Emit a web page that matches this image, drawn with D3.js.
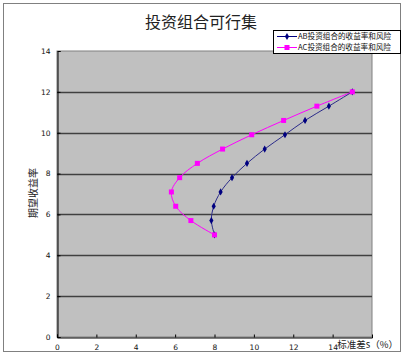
<!DOCTYPE html>
<html><head><meta charset="utf-8">
<script src="https://cdn.jsdelivr.net/npm/d3@7"></script>
<style>body{margin:0;background:#fff;} svg{display:block;}</style>
</head><body>
<svg id="c" width="405" height="356"></svg>
<script>
const title = "投资组合可行集";
const xTitle = "标准差s（%）";
const yTitle = "期望收益率";
const seriesNames = ["AB投资组合的收益率和风险", "AC投资组合的收益率和风险"];
const returns = [5, 5.7, 6.4, 7.1, 7.8, 8.5, 9.2, 9.9, 10.6, 11.3, 12];
const abRisk = [8.0, 7.84, 7.96, 8.31, 8.89, 9.65, 10.55, 11.58, 12.6, 13.81, 15.0];
const acRisk = [8.0, 6.8, 6.03, 5.81, 6.23, 7.13, 8.41, 9.89, 11.51, 13.2, 15.0];
const xTicks = [0, 2, 4, 6, 8, 10, 12, 14];
const yTicks = [0, 2, 4, 6, 8, 10, 12, 14];

const svg = d3.select("#c");
const font = "'Noto Sans CJK SC', 'DejaVu Sans', sans-serif";
const L = 57, R = 372, T = 51, B = 337;
const x = d3.scaleLinear().domain([0, 16]).range([L, R]);
const y = d3.scaleLinear().domain([0, 14]).range([B, T]);

// outer border
svg.append("rect").attr("x", 3.5).attr("y", 3.5).attr("width", 397).attr("height", 348)
  .attr("fill", "#fff").attr("stroke", "#808080");

// title
svg.append("text").attr("x", 201).attr("y", 28).attr("text-anchor", "middle")
  .attr("font-family", font).attr("font-size", 16).attr("fill", "#222").text(title);

// plot area
svg.append("rect").attr("x", L).attr("y", T).attr("width", R - L).attr("height", B - T)
  .attr("fill", "#c0c0c0").attr("stroke", "#808080");

// gridlines
svg.append("g").selectAll("line").data(yTicks.filter(d => d > 0 && d < 14)).join("line")
  .attr("x1", L).attr("x2", R).attr("y1", d => Math.round(y(d)) + 0.5).attr("y2", d => Math.round(y(d)) + 0.5)
  .attr("stroke", "#404040").attr("stroke-width", 1.3);

// axes
const xAxis = svg.append("g").attr("transform", `translate(0,${B + 0.5})`)
  .call(d3.axisBottom(x).tickValues(xTicks).tickSize(-3).tickPadding(7).tickFormat(d3.format("d")));
const yAxis = svg.append("g").attr("transform", `translate(${L + 0.5},0)`)
  .call(d3.axisLeft(y).tickValues(yTicks).tickSize(-3).tickPadding(7).tickFormat(d3.format("d")));
[xAxis, yAxis].forEach(a => {
  a.select(".domain").attr("stroke", "#000");
  a.selectAll(".tick line").attr("stroke", "#000");
  a.selectAll("text").attr("font-family", "'DejaVu Sans', sans-serif").attr("font-size", 7.5).attr("fill", "#111");
});

// axis titles
svg.append("text").attr("x", 398).attr("y", 348).attr("text-anchor", "end")
  .attr("font-family", font).attr("font-size", 9.5).attr("fill", "#222").text(xTitle);
svg.append("text").attr("transform", "translate(37,193) rotate(-90)").attr("text-anchor", "middle")
  .attr("font-family", font).attr("font-size", 10).attr("fill", "#222").text(yTitle);

// series
const line = d3.line().curve(d3.curveCatmullRom.alpha(0.5)).x(d => x(d[0])).y(d => y(d[1]));
const ab = abRisk.map((r, i) => [r, returns[i]]);
const ac = acRisk.map((r, i) => [r, returns[i]]);
const abColor = "#000080", acColor = "#ff00ff";
svg.append("path").datum(ac).attr("d", line).attr("fill", "none").attr("stroke", acColor).attr("stroke-width", 1);
svg.append("path").datum(ab).attr("d", line).attr("fill", "none").attr("stroke", "#2b2b8a").attr("stroke-width", 1);
const diamond = d3.symbol().type(d3.symbolDiamond).size(15);
svg.append("g").selectAll("path").data(ab).join("path")
  .attr("d", diamond).attr("transform", d => `translate(${x(d[0])},${y(d[1])})`).attr("fill", abColor);
svg.append("g").selectAll("rect").data(ac).join("rect")
  .attr("x", d => x(d[0]) - 2.5).attr("y", d => y(d[1]) - 2.5).attr("width", 5).attr("height", 5).attr("fill", acColor);

// legend
const lg = svg.append("g");
lg.append("rect").attr("x", 273.5).attr("y", 30.5).attr("width", 127).attr("height", 23)
  .attr("fill", "#fff").attr("stroke", "#000");
const colors = [abColor, acColor];
seriesNames.forEach((n, i) => {
  const yy = 36.5 + i * 11;
  lg.append("line").attr("x1", 277).attr("x2", 297).attr("y1", yy).attr("y2", yy).attr("stroke", colors[i]).attr("stroke-width", 1);
  if (i === 0) lg.append("path").attr("d", diamond).attr("transform", `translate(287,${yy})`).attr("fill", abColor);
  else lg.append("rect").attr("x", 284.5).attr("y", yy - 2.5).attr("width", 5).attr("height", 5).attr("fill", acColor);
  lg.append("text").attr("x", 298).attr("y", yy + 2.8).attr("font-family", font).attr("font-size", 7.6)
    .attr("fill", "#111").text(n);
});
</script>
</body></html>
